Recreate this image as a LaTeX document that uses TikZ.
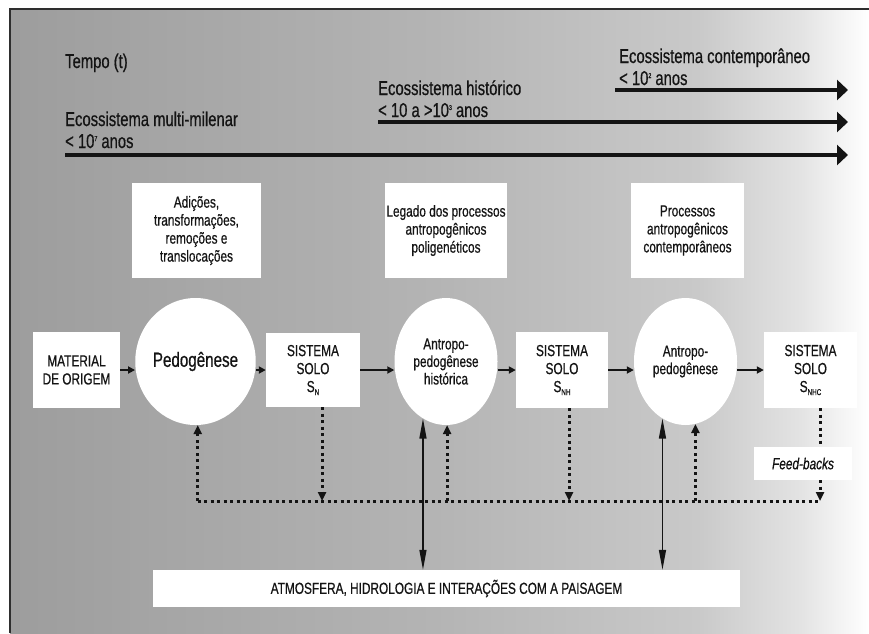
\documentclass[tikz,border=0pt]{standalone}
\usepackage{fontspec}
\setmainfont{Liberation Sans}[FakeStretch=0.74, FakeBold=0.6]
\usetikzlibrary{arrows.meta,shapes.geometric,calc}

\definecolor{ink}{HTML}{141414}
\definecolor{framecol}{HTML}{2E2E2E}
\definecolor{bgA}{RGB}{157,157,157}
\definecolor{bgB}{RGB}{180,180,180}
\definecolor{bgC}{RGB}{201,201,201}
\definecolor{bgD}{RGB}{227,227,227}
% grey-to-white backdrop (the 25bp..75bp band spans the filled rectangle)
\pgfdeclarehorizontalshading{backdrop}{100bp}{color(0bp)=(bgA); color(25bp)=(bgA); color(49.7bp)=(bgB); color(65bp)=(bgC); color(71bp)=(bgD); color(75bp)=(white); color(100bp)=(white)}

\newcommand{\sups}[1]{\raisebox{7pt}{\fontsize{7}{7}\selectfont #1}}
\newcommand{\subs}[1]{\raisebox{-3pt}{\fontsize{8.5}{8.5}\selectfont #1}}

\tikzset{
  hdr/.style={font=\fontsize{20}{22}\selectfont, text=ink, inner sep=0pt, anchor=base west, align=left},
  panel/.style={fill=white, draw=none, inner sep=0pt, text=ink, align=center,
                font=\fontsize{16}{18}\selectfont},
  blob/.style={ellipse, fill=white, draw=none, inner sep=0pt, text=ink, align=center,
               minimum width=103pt, minimum height=127pt, font=\fontsize{16}{17.5}\selectfont},
  flow/.style={draw=ink, line width=1.8pt, -{Triangle[width=7pt,length=7pt]}},
  timeline/.style={draw=ink, line width=4pt, -{Triangle[width=20pt,length=11pt]}},
  dots/.style={draw=ink, line width=3pt, dash pattern=on 3pt off 3.5pt},
  dotarrow/.style={dots, -{Triangle[width=8pt,length=9pt]}},
  link/.style={draw=ink, line width=1.4pt, {Triangle[width=7pt,length=20pt]}-{Triangle[width=7pt,length=20pt]}},
}

\begin{document}
\begin{tikzpicture}[x=1pt, y=-1pt]
\useasboundingbox (0,0) rectangle (869,633);
\fill[white] (0,0) rectangle (869,633);
\shade[shading=backdrop] (10,8) rectangle (869,633);
\draw[framecol, line width=2.5pt] (10,633) -- (10,9) -- (869,9);

% time axes
\node[hdr] (tempo) at (65,68) {Tempo (t)};
\node[hdr] (eco1a) at (65,126) {Ecossistema multi-milenar};
\node[hdr] (eco1b) at (65,148) {< 10\sups{7} anos};
\node[hdr] (eco2a) at (378,95) {Ecossistema histórico};
\node[hdr] (eco2b) at (378,117) {< 10 a >10\sups{3} anos};
\node[hdr] (eco3a) at (619,63) {Ecossistema contemporâneo};
\node[hdr] (eco3b) at (619,85) {< 10\sups{2} anos};

\coordinate (t1s) at (65,155);  \coordinate (t1e) at (848,155);
\coordinate (t2s) at (378,122); \coordinate (t2e) at (848,122);
\coordinate (t3s) at (615,90);  \coordinate (t3e) at (848,90);
\draw[timeline] (t1s) -- (t1e);
\draw[timeline] (t2s) -- (t2e);
\draw[timeline] (t3s) -- (t3e);

% process descriptions
\node[panel, minimum width=129pt, minimum height=95pt] (add) at (196.5,230.5)
  {Adições,\\transformações,\\remoções e\\translocações};
\node[panel, minimum width=122pt, minimum height=95pt] (leg) at (446,230.5)
  {Legado dos processos\\antropogênicos\\poligenéticos};
\node[panel, minimum width=113pt, minimum height=95pt] (proc) at (687.5,230.5)
  {Processos\\antropogênicos\\contemporâneos};

% main sequence
\node[panel, minimum width=87pt, minimum height=76pt] (mat) at (76.5,370)
  {MATERIAL\\DE ORIGEM};
\node[blob, font=\fontsize{20.5}{22}\selectfont] (ped) at (195.5,361.5) {Pedogênese};
\node[panel, minimum width=94pt, minimum height=74pt] (sn) at (313,370)
  {SISTEMA\\SOLO\\S\subs{N}};
\node[blob] (ant1) at (446,361.5) {Antropo-\\pedogênese\\histórica};
\node[panel, minimum width=92pt, minimum height=76pt] (snh) at (562,370)
  {SISTEMA\\SOLO\\S\subs{NH}};
\node[blob] (ant2) at (685.5,361.5) {Antropo-\\pedogênese};
\node[panel, minimum width=93pt, minimum height=76pt] (snhc) at (810.5,370)
  {SISTEMA\\SOLO\\S\subs{NHC}};

\node[panel, minimum width=98pt, minimum height=33pt, font=\itshape\fontsize{16}{18}\selectfont] (fb) at (803,463.5) {Feed-backs};
\node[panel, minimum width=587pt, minimum height=37pt] (atm) at (446.5,588.5)
  {ATMOSFERA, HIDROLOGIA E INTERAÇÕES COM A PAISAGEM};

\draw[flow] (mat.east) -- (mat.east -| ped.west);
\draw[flow] (sn.west -| ped.east) -- (sn.west);
\draw[flow] (sn.east) -- (sn.east -| ant1.west);
\draw[flow] (snh.west -| ant1.east) -- (snh.west);
\draw[flow] (snh.east) -- (snh.east -| ant2.west);
\draw[flow] (snhc.west -| ant2.east) -- (snhc.west);

% feedback loop
\coordinate (hl) at (0,501);
\coordinate (d1) at ([xshift=9pt]sn.south);
\coordinate (d2) at ([xshift=7pt]snh.south);
\coordinate (d3) at ([xshift=9.5pt]snhc.south);
\draw[dots] (ped.-88 |- hl) -- (d3 |- hl);
\draw[dotarrow] (ped.-88 |- hl) -- (ped.-88);
\draw[dotarrow] (ant1.-89 |- hl) -- (ant1.-89);
\draw[dotarrow] (ant2.-81 |- hl) -- (ant2.-81);
\draw[dotarrow] (d1) -- (d1 |- hl);
\draw[dotarrow] (d2) -- (d2 |- hl);
\draw[dots] (d3) -- (d3 |- fb.north);
\draw[dotarrow] (d3 |- fb.south) -- (d3 |- hl);

% exchanges with the landscape
\draw[link] (ant1.248) -- (ant1.248 |- atm.north);
\draw[link] (ant2.248.5) -- (ant2.248.5 |- atm.north);
\end{tikzpicture}
\end{document}
